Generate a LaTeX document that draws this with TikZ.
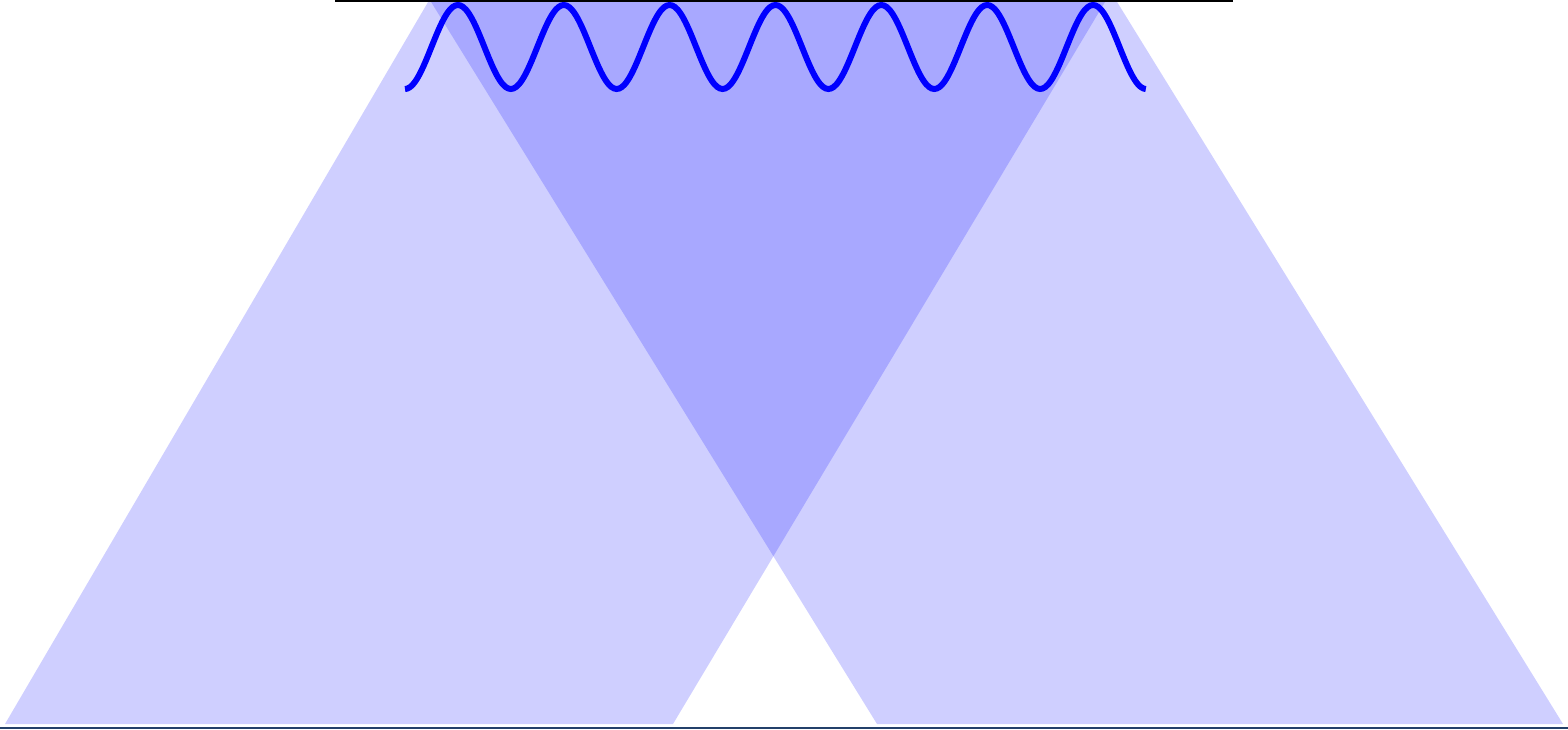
\documentclass[tikz,border=0pt]{standalone}
\usepackage{tikz}
\usetikzlibrary{calc}
\definecolor{beamC}{HTML}{0000FF}
\definecolor{waveC}{HTML}{0000FF}
\definecolor{floorC}{HTML}{23406A}
\tikzset{
  beam/.style={fill=beamC,fill opacity=0.19,draw=none},
  wave/.style={waveC,line width=6pt,line cap=butt},
  surface/.style={black,line width=2pt},
  floor/.style={floorC,line width=2pt}}

\begin{document}
\begin{tikzpicture}[x=1pt,y=1pt]
\useasboundingbox (0,0) rectangle (1568,729);
\clip (0,0) rectangle (1568,729);
% beams
\coordinate (lTopL) at (431,732);\coordinate (lTopR) at (1108,732);
\coordinate (lBotL) at (5,5);\coordinate (lBotR) at (673,5);
\coordinate (rTopL) at (428,732);\coordinate (rTopR) at (1114,732);
\coordinate (rBotL) at (877,5);\coordinate (rBotR) at (1563,5);
\fill[beam] (lTopL) -- (lTopR) -- (lBotR) -- (lBotL) -- cycle;
\fill[beam] (rTopL) -- (rTopR) -- (rBotR) -- (rBotL) -- cycle;
% wave
\draw[wave] plot[domain=0:7,samples=281,smooth] ({405+\x*105.857},{682-42*cos(\x*360)});
% lines
\coordinate (sL) at (335,728);\coordinate (sR) at (1233,728);
\draw[surface] (sL) -- (sR);
\coordinate (fL) at (0,1.5);\coordinate (fR) at (1568,1.5);
\draw[floor] (fL) -- (fR);
\end{tikzpicture}
\end{document}
